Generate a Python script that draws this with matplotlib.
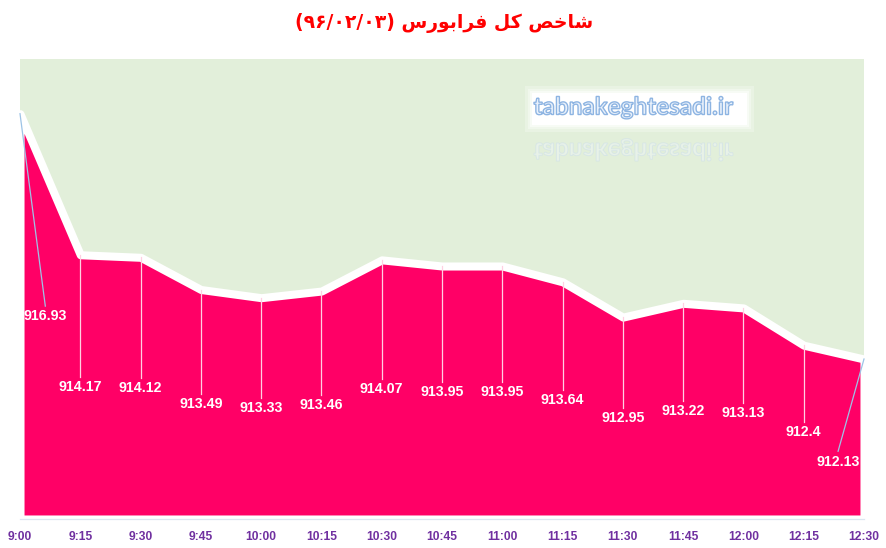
import numpy as np
import matplotlib
matplotlib.use("Agg")
import matplotlib.pyplot as plt
from matplotlib.textpath import TextPath
from matplotlib.font_manager import FontProperties
from matplotlib.patches import PathPatch, Rectangle
from matplotlib.transforms import Affine2D

# data
times = ['9:00', '9:15', '9:30', '9:45', '10:00', '10:15', '10:30', '10:45',
         '11:00', '11:15', '11:30', '11:45', '12:00', '12:15', '12:30']
values = [916.93, 914.17, 914.12, 913.49, 913.33, 913.46, 914.07, 913.95,
          913.95, 913.64, 912.95, 913.22, 913.13, 912.4, 912.13]
y_min, y_max = 909, 918

# title is "شاخص کل فرابورس (۹۶/۰۲/۰۳)" written in visual order with
# presentation forms, because matplotlib does no arabic shaping / bidi
date_part = "(\u06F9\u06F6/\u06F0\u06F2/\u06F0\u06F3)"
w_farabourse = "\uFEB1\uFEAD\uFEEE\uFE91\uFE8D\uFEAE\uFED3"
w_kol = "\uFEDE\uFB90"
w_shakhes = "\uFEBA\uFEA7\uFE8E\uFEB7"
title = date_part + " " + w_farabourse + " " + w_kol + " " + w_shakhes
site = "tabnakeghtesadi.ir"

W, H = 887, 548
fig = plt.figure(figsize=(W / 100, H / 100), dpi=100)
fig.patch.set_facecolor('white')

# plot area: x 20..864 px, y 59..519 px from top
ax = fig.add_axes([20 / W, 1 - 519 / H, 844 / W, 460 / H])
ax.set_facecolor('#E2EFDA')

x = np.arange(len(values))
ax.fill_between(x, values, y_min, facecolor='#FF0066', edgecolor='white',
                linewidth=5.8, zorder=2)
ax.set_xlim(0, len(values) - 1)
ax.set_ylim(y_min, y_max)

for s in ['top', 'left', 'right']:
    ax.spines[s].set_visible(False)
ax.spines['bottom'].set_color('#DCE6F0')
ax.spines['bottom'].set_linewidth(0.9)
ax.spines['bottom'].set_zorder(3)

ax.set_yticks([])
ax.set_xticks(x, times)
ax.tick_params(axis='x', length=0, pad=9, labelcolor='#7030A0', labelsize=8.7)
for t in ax.get_xticklabels():
    t.set_fontweight('bold')
    t.set_fontfamily('Liberation Sans')

# data labels at the middle of each column, first and last nudged aside
last = len(values) - 1
for i, v in enumerate(values):
    lx, ly = i, (v + y_min) / 2
    lc = '#FFD0E2'
    if i == 0:
        lx += 0.42
        lc = '#9DC3E6'
    elif i == last:
        lx -= 0.43
        ly -= 0.44
        lc = '#9DC3E6'
    ax.plot([i, lx], [v, ly + 0.2], color=lc, lw=0.9, zorder=4, clip_on=False)
    ax.text(lx, ly, f'{v:g}', ha='center', va='center', color='white',
            fontsize=10.2, fontweight='bold', family='Liberation Sans', zorder=5)

fig.text(444 / W, 1 - 23 / H, title, ha='center', va='center', color='#FF0000',
         fontsize=13.5, fontweight='bold', family='DejaVu Sans')

# watermark box with soft glow
def fig_px(x0, y0):
    return Affine2D().translate(x0, y0).scale(1 / W, 1 / H) + fig.transFigure

for grow, a in [(7, 0.25), (4, 0.35), (2, 0.5)]:
    fig.add_artist(Rectangle((532 - grow, H - 125 - grow), 215 + 2 * grow, 32 + 2 * grow,
                             transform=fig_px(0, 0), facecolor='white', edgecolor='none',
                             alpha=a))
fig.add_artist(Rectangle((532, H - 125), 215, 32, transform=fig_px(0, 0),
                         facecolor='white', edgecolor='none'))

fp = FontProperties(family='Lato', weight='bold')
tp = TextPath((0, 0), site, size=1, prop=fp)
ext = tp.get_extents()
sc = 199 / ext.width
main_tr = (Affine2D().translate(-ext.x0, 0).scale(sc, sc)
           .translate(534, H - 114.5).scale(1 / W, 1 / H) + fig.transFigure)
fig.add_artist(PathPatch(tp, transform=main_tr, facecolor='#E9F1FB',
                         edgecolor='#8DB4E2', lw=1.0))
refl_tr = (Affine2D().translate(-ext.x0, 0).scale(sc, -sc)
           .translate(534, H - 143).scale(1 / W, 1 / H) + fig.transFigure)
fig.add_artist(PathPatch(tp, transform=refl_tr, facecolor='#F2F7FC',
                         edgecolor='#C4D8EF', lw=0.7, alpha=0.4))

fig.savefig('out.png', dpi=100)
